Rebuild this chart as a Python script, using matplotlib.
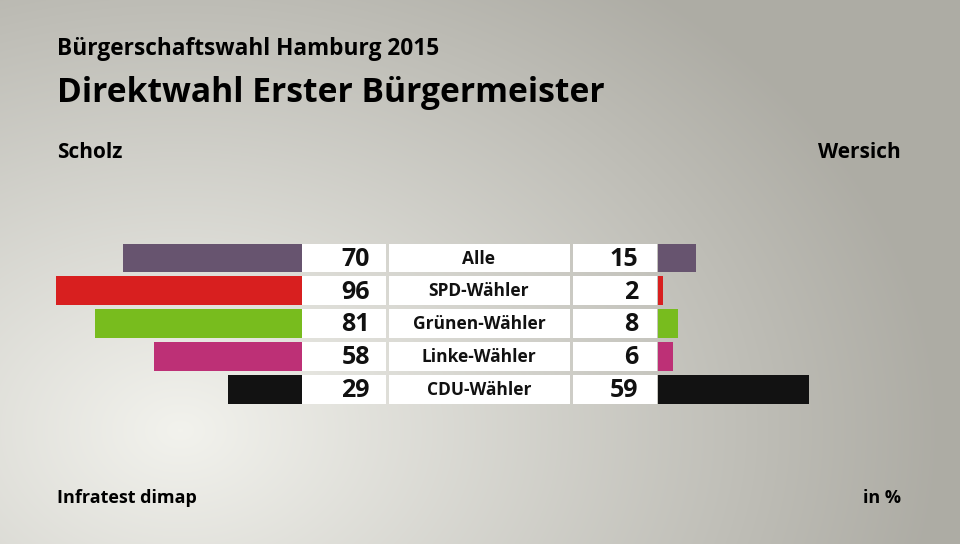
import matplotlib
matplotlib.use("Agg")
import matplotlib.pyplot as plt
import numpy as np

# data
groups = ["Alle", "SPD-Wähler", "Grünen-Wähler", "Linke-Wähler", "CDU-Wähler"]
scholz = [70, 96, 81, 58, 29]
wersich = [15, 2, 8, 6, 59]
colors = ["#67546f", "#d81f1f", "#78bc1e", "#bd3076", "#121212"]

W, H = 960, 544
fig = plt.figure(figsize=(9.6, 5.44), dpi=100)

# background gradient
bg = fig.add_axes([0, 0, 1, 1])
yy, xx = np.mgrid[0:H, 0:W]
d = np.sqrt(((xx - 180) / 760.0) ** 2 + ((yy - 430) / 560.0) ** 2)
t = np.clip(d, 0, 1) ** 1.0
light = np.array([0.95, 0.95, 0.93])
dark = np.array([0.68, 0.675, 0.645])
img = light[None, None, :] * (1 - t[..., None]) + dark[None, None, :] * t[..., None]
bg.imshow(img, extent=[0, W, H, 0], aspect="auto")
bg.set_xlim(0, W)
bg.set_ylim(H, 0)
bg.axis("off")

y = np.arange(len(groups))
bh = 0.88
ylim = (4.5, -0.5)
pitch = 32.8
top = 243.5 - (0.5 - bh / 2) * pitch
ax_h = pitch * 5

def px_axes(x0, x1):
    return fig.add_axes([x0 / W, 1 - (top + ax_h) / H, (x1 - x0) / W, ax_h / H])

scale = 2.56
# left bars (Scholz)
axl = px_axes(302 - 100 * scale, 302)
axl.barh(y, scholz, height=bh, color=colors)
axl.set_xlim(100, 0)
axl.set_ylim(*ylim)
axl.axis("off")

# right bars (Wersich)
axr = px_axes(658, 658 + 100 * scale)
axr.barh(y, wersich, height=bh, color=colors)
axr.set_xlim(0, 100)
axr.set_ylim(*ylim)
axr.axis("off")

# white boxes for values and labels
axm = px_axes(302, 658)
axm.set_xlim(302, 658)
axm.set_ylim(*ylim)
axm.axis("off")
for left, width in [(302, 84), (389, 181), (573, 84)]:
    axm.barh(y, [width] * len(y), left=left, height=bh, color="white")

vfont = dict(family=["Open Sans", "DejaVu Sans"], fontweight="bold", fontsize=18, color="#111111")
lfont = dict(family=["Open Sans", "DejaVu Sans"], fontweight="bold", fontsize=12.5, color="#111111")
for i in y:
    axm.text(370, i + 0.04, str(scholz[i]), ha="right", va="center", **vfont)
    axm.text(638, i + 0.04, str(wersich[i]), ha="right", va="center", **vfont)
    axm.text(479, i + 0.02, groups[i], ha="center", va="center", **lfont)

# titles
tfam = ["Open Sans", "DejaVu Sans"]
fig.text(57 / W, 1 - 49 / H, "Bürgerschaftswahl Hamburg 2015", family=tfam,
         fontweight="bold", fontsize=16.3, va="center", ha="left")
fig.text(57 / W, 1 - 93 / H, "Direktwahl Erster Bürgermeister", family=tfam,
         fontweight="bold", fontsize=24.2, va="center", ha="left")
fig.text(57 / W, 1 - 153 / H, "Scholz", family=tfam, fontweight="bold",
         fontsize=15, va="center", ha="left")
fig.text(901 / W, 1 - 153 / H, "Wersich", family=tfam, fontweight="bold",
         fontsize=15, va="center", ha="right")
fig.text(57 / W, 1 - 498 / H, "Infratest dimap", family=tfam, fontweight="bold",
         fontsize=13, va="center", ha="left")
fig.text(901 / W, 1 - 498 / H, "in %", family=tfam, fontweight="bold",
         fontsize=13, va="center", ha="right")

fig.savefig("out.png", dpi=100)
